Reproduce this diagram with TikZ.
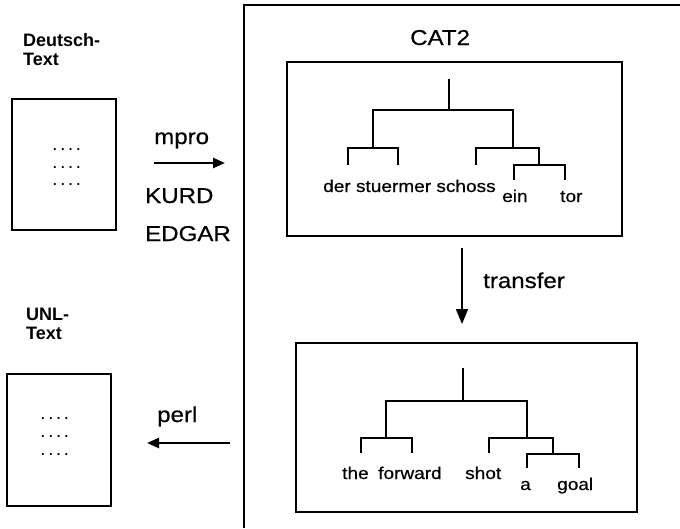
\documentclass[tikz,border=0pt]{standalone}
\usepackage{fontspec}
\setmainfont{Liberation Sans}
\newfontfamily\widefont{Liberation Sans}[FakeStretch=1.12,FakeBold=0.5]
\usetikzlibrary{arrows.meta}
\newcommand\fourdots{.\kern4.2pt.\kern4.2pt.\kern4.2pt.}
\tikzset{
  box/.style={draw, line width=1.3pt, minimum width=#1, inner sep=0pt},
  lbl/.style={anchor=base west, inner sep=0pt, font=\widefont\fontsize{21.5}{24}\selectfont},
  word/.style={anchor=base west, inner sep=0pt, font=\widefont\fontsize{17}{20}\selectfont},
  head/.style={anchor=base west, inner sep=0pt, align=left, font=\bfseries\fontsize{18}{20}\selectfont},
  dots/.style={anchor=base west, inner sep=0pt, font=\bfseries\fontsize{13}{15}\selectfont},
  tree/.style={line width=1.5pt},
  flow/.style={line width=2.4pt, -{Triangle[length=12pt,width=10pt]}},
}
\begin{document}
\begin{tikzpicture}[x=1pt,y=-1pt]
\useasboundingbox (0,0) rectangle (680,528);
% outer frame (cut off at right and bottom)
\draw[line width=1.5pt] (680,5) -- (244,5) -- (244,528);
% left text boxes
\node[box=104pt, minimum height=131pt] (de) at (64,164.5) {};
\node[box=104pt, minimum height=132pt] (unl) at (59,440) {};
\node[head] (deh) at (23,65) {Deutsch-\\[-1pt]Text};
\node[head] (unlh) at (26,339) {UNL-\\[-1pt]Text};
\node[dots] (d1) at (53,150) {\fourdots};
\node[dots] (d2) at (53,168) {\fourdots};
\node[dots] (d3) at (53,185) {\fourdots};
\node[dots] (u1) at (41,419) {\fourdots};
\node[dots] (u2) at (41,437) {\fourdots};
\node[dots] (u3) at (41,455) {\fourdots};
% labels
\node[lbl] (mpro) at (154,144) {mpro};
\node[lbl] (kurd) at (145,203) {KURD};
\node[lbl] (edgar) at (145,241) {EDGAR};
\node[lbl] (perl) at (157,422) {perl};
\node[lbl] (cat) at (410,45) {CAT2};
\node[lbl] (transfer) at (483,288) {transfer};
% arrows
\coordinate (m1) at (154,163);
\coordinate (m2) at (225,163);
\coordinate (p1) at (230,443);
\coordinate (p2) at (147,443);
\draw[flow] (m1) -- (m2);
\draw[flow] (p1) -- (p2);
% CAT2 boxes
\node[box=335pt, minimum height=174pt] (src) at (454.5,149) {};
\node[box=341pt, minimum height=169pt] (tgt) at (466.5,427.5) {};
\coordinate (t1) at (462,248);
\coordinate (t2) at (462,324);
\draw[line width=1.7pt, -{Triangle[length=15pt,width=12pt]}] (t1) -- (t2);
% source tree
\draw[tree] (449,79) -- (449,110);
\draw[tree] (373,148) -- (373,110) -- (513,110) -- (513,148);
\draw[tree] (348,165) -- (348,148) -- (398,148) -- (398,165);
\draw[tree] (476,165) -- (476,148) -- (539,148) -- (539,165);
\draw[tree] (514,180) -- (514,165) -- (565,165) -- (565,180);
\node[word] (w1) at (323,192) {der stuermer schoss};
\node[word] (w2) at (502,202) {ein};
\node[word] (w3) at (560,202) {tor};
% target tree
\draw[tree] (463,368) -- (463,401);
\draw[tree] (386,438) -- (386,401) -- (527,401) -- (527,438);
\draw[tree] (361,453) -- (361,438) -- (412,438) -- (412,453);
\draw[tree] (489,453) -- (489,438) -- (553,438) -- (553,454);
\draw[tree] (527,468) -- (527,454) -- (579,454) -- (579,468);
\node[word] (e1) at (342,479) {the};
\node[word] (e2) at (378,479) {forward};
\node[word] (e3) at (465,479) {shot};
\node[word] (e4) at (520,490) {a};
\node[word] (e5) at (557,490) {goal};
\end{tikzpicture}
\end{document}
